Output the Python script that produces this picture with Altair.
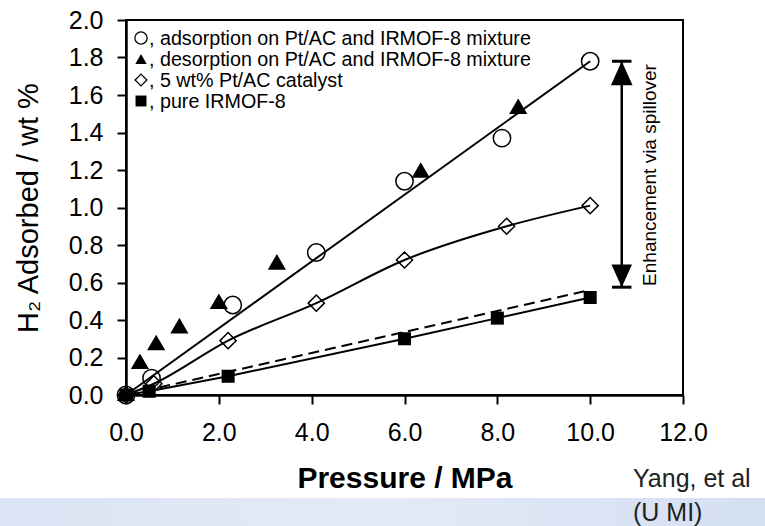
import altair as alt
import pandas as pd

# Hydrogen uptake (wt %) versus pressure (MPa) for each sample
ads_p = [0.0, 0.55, 2.3, 4.1, 6.0, 8.1, 10.0]
ads_w = [0.0, 0.09, 0.48, 0.76, 1.14, 1.37, 1.78]

des_p = [0.0, 0.3, 0.65, 1.15, 2.0, 3.25, 6.35, 8.45]
des_w = [0.01, 0.18, 0.28, 0.37, 0.50, 0.71, 1.20, 1.54]

cat_p = [0.0, 0.6, 2.2, 4.1, 6.0, 8.2, 10.0]
cat_w = [0.0, 0.06, 0.29, 0.49, 0.72, 0.90, 1.01]

mof_p = [0.0, 0.5, 2.2, 6.0, 8.0, 10.0]
mof_w = [0.0, 0.02, 0.10, 0.30, 0.41, 0.52]

# Straight-line fits
mix_fit_p = [0.0, 10.0]
mix_fit_w = [0.0, 1.78]
dash_p = [0.0, 10.0]
dash_w = [0.0, 0.56]

# Enhancement bracket (pressure position, low and high uptake)
enh_p = 10.68
enh_low = 0.575
enh_high = 1.78

legend_labels = [
    ", adsorption on Pt/AC and IRMOF-8 mixture",
    ", desorption on Pt/AC and IRMOF-8 mixture",
    ", 5 wt% Pt/AC catalyst",
    ", pure IRMOF-8",
]
legend_shapes = ["circle", "triangle-up", "diamond", "square"]
legend_filled = [False, True, False, True]
legend_sizes = [150, 130, 140, 120]

x_ticks = [0, 2, 4, 6, 8, 10, 12]
y_ticks = [0.0, 0.2, 0.4, 0.6, 0.8, 1.0, 1.2, 1.4, 1.6, 1.8, 2.0]

FONT = "Liberation Sans"
W, H = 557, 375

x_axis = alt.Axis(
    values=x_ticks, format=".1f", title="Pressure / MPa",
    labelFontSize=25, labelPadding=16, tickSize=9, tickWidth=2,
    labelFlush=False, labelOverlap=False,
    domainWidth=2.5, grid=False, titleFontSize=30, titleFontWeight="bold",
    titleX=W / 2, titleY=83, titleBaseline="middle", titleAlign="center",
)
y_axis = alt.Axis(
    values=y_ticks, format=".1f", title="H₂ Adsorbed / wt %",
    labelFontSize=25, labelPadding=14, tickSize=9, tickWidth=2,
    labelFlush=False, labelOverlap=False,
    domainWidth=2.5, grid=False, titleFontSize=29, titleFontWeight="normal",
    titleX=-98, titleY=H / 2, titleAngle=270, titleBaseline="middle",
    titleAlign="center",
)
xs = alt.Scale(domain=[0, 12], nice=False, zero=False)
ys = alt.Scale(domain=[0, 2], nice=False, zero=False)


def enc_x():
    return alt.X("p:Q", scale=xs, axis=x_axis)


def enc_y():
    return alt.Y("w:Q", scale=ys, axis=y_axis)


def frame(p, w):
    return pd.DataFrame({"p": p, "w": w})


one = pd.DataFrame({"k": [0]})

# Light band along the bottom edge
band = alt.Chart(one).mark_rect(
    fill=alt.Gradient(
        gradient="linear",
        stops=[
            alt.GradientStop(color="#dbe4f4", offset=0),
            alt.GradientStop(color="#e3eaf7", offset=0.5),
            alt.GradientStop(color="#d4dff2", offset=1),
        ],
        x1=0, x2=1, y1=0, y2=0,
    )
).encode(x=alt.value(-126), x2=alt.value(639), y=alt.value(478), y2=alt.value(520))

line_mix = alt.Chart(frame(mix_fit_p, mix_fit_w)).mark_line(
    color="black", strokeWidth=2
).encode(x=enc_x(), y=enc_y())

line_cat = alt.Chart(frame(cat_p, cat_w)).mark_line(
    color="black", strokeWidth=2, interpolate="monotone"
).encode(x=enc_x(), y=enc_y())

line_mof = alt.Chart(frame(mof_p, mof_w)).mark_line(
    color="black", strokeWidth=2
).encode(x=enc_x(), y=enc_y())

line_dash = alt.Chart(frame(dash_p, dash_w)).mark_line(
    color="black", strokeWidth=2, strokeDash=[11, 6]
).encode(x=enc_x(), y=enc_y())

pts_ads = alt.Chart(frame(ads_p, ads_w)).mark_point(
    shape="circle", size=300, filled=False, color="black", strokeWidth=1.5, opacity=1
).encode(x=enc_x(), y=enc_y())

pts_des = alt.Chart(frame(des_p, des_w)).mark_point(
    shape="triangle-up", size=330, filled=True, color="black", opacity=1
).encode(x=enc_x(), y=enc_y())

pts_cat = alt.Chart(frame(cat_p, cat_w)).mark_point(
    shape="diamond", size=260, filled=False, color="black", strokeWidth=1.5, opacity=1
).encode(x=enc_x(), y=enc_y())

pts_mof = alt.Chart(frame(mof_p, mof_w)).mark_point(
    shape="square", size=170, filled=True, color="black", opacity=1
).encode(x=enc_x(), y=enc_y())

# Double-headed arrow marking the spillover enhancement
enh = pd.DataFrame({"p": [enh_p], "w": [enh_low], "w2": [enh_high]})
enh_rule = alt.Chart(enh).mark_rule(color="black", strokeWidth=2.5).encode(
    x=enc_x(), y=enc_y(), y2="w2:Q"
)
enh_ends = alt.Chart(frame([enh_p, enh_p], [enh_low, enh_high])).mark_point(
    shape="M-1,0L1,0", size=380, filled=False, color="black", strokeWidth=3, opacity=1
).encode(x=enc_x(), y=enc_y())
head_up = alt.Chart(frame([enh_p], [enh_high])).mark_point(
    shape="M0,0L-0.9,2L0.9,2Z", size=576, filled=True, color="black", opacity=1
).encode(x=enc_x(), y=enc_y())
head_down = alt.Chart(frame([enh_p], [enh_low])).mark_point(
    shape="M0,0L-0.9,-2L0.9,-2Z", size=520, filled=True, color="black", opacity=1
).encode(x=enc_x(), y=enc_y())

enh_text = alt.Chart(one).mark_text(
    text="Enhancement via spillover", angle=270, font=FONT, fontSize=19,
    align="center", baseline="middle", color="black"
).encode(x=alt.value(524), y=alt.value(155))

# Legend rows inside the plot
legend_layers = []
for i, (lab, shp, fil, sz) in enumerate(
    zip(legend_labels, legend_shapes, legend_filled, legend_sizes)
):
    yy = 18 + 21 * i
    legend_layers.append(
        alt.Chart(one).mark_point(
            shape=shp, size=sz, filled=fil, color="black", strokeWidth=1.3, opacity=1
        ).encode(x=alt.value(15), y=alt.value(yy))
    )
    legend_layers.append(
        alt.Chart(one).mark_text(
            text=lab, font=FONT, fontSize=19.7, align="left", baseline="middle",
            color="black"
        ).encode(x=alt.value(23), y=alt.value(yy + 1))
    )

credit1 = alt.Chart(one).mark_text(
    text="Yang, et al", font=FONT, fontSize=25, align="left", baseline="middle",
    color="#222222"
).encode(x=alt.value(507), y=alt.value(459))
credit2 = alt.Chart(one).mark_text(
    text="(U MI)", font=FONT, fontSize=25, align="left", baseline="middle",
    color="#222222"
).encode(x=alt.value(507), y=alt.value(493))

chart = alt.layer(
    band,
    line_dash, line_mix, line_cat, line_mof,
    pts_ads, pts_cat, pts_mof, pts_des,
    enh_rule, enh_ends, head_up, head_down, enh_text,
    *legend_layers,
    credit1, credit2,
).properties(
    width=W, height=H,
    padding={"left": 126, "top": 20, "right": 82, "bottom": 131},
    autosize=alt.AutoSizeParams(type="none"),
    background="white",
).configure_view(
    stroke="black", strokeWidth=2
).configure_axis(
    domainColor="black", tickColor="black", labelColor="black", titleColor="black",
    labelFont=FONT, titleFont=FONT,
)

chart.save("out.html", embed_options={"renderer": "svg", "actions": False})
